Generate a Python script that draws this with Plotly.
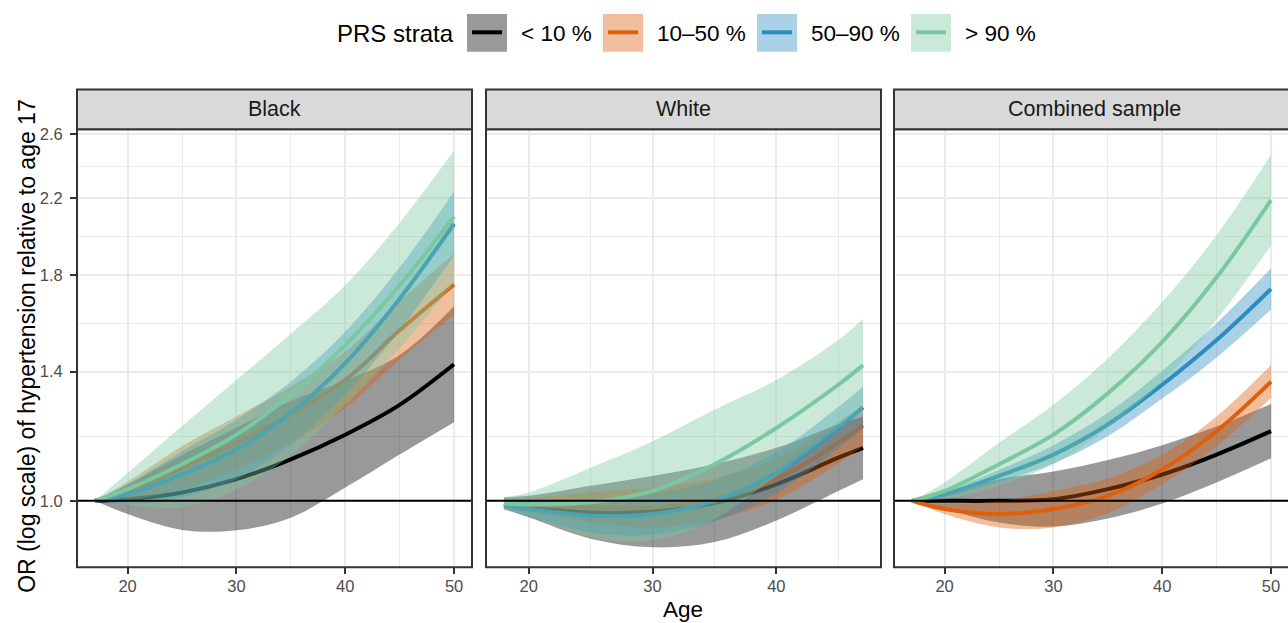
import math
import plotly.graph_objects as go

W, H = 1288, 623
FONT = "Liberation Sans, Arial, Helvetica, sans-serif"

# ---------------- data ----------------
panels = ["Black", "White", "Combined sample"]
strata = ["< 10 %", "10–50 %", "50–90 %", "> 90 %"]
line_colors = ["#000000", "#DE600C", "#2B8CBE", "#7BC8A0"]

y_tickvals = [1.0, 1.4, 1.8, 2.2, 2.6]
y_ticktext = ["1.0", "1.4", "1.8", "2.2", "2.6"]
x_tickvals = [20, 30, 40, 50]

# Black
age_bk = [17, 20, 25, 30, 35, 40, 45, 50]
bk_s1_est = [1.000, 1.004, 1.022, 1.058, 1.114, 1.188, 1.284, 1.427]
bk_s1_lo = [1.000, 0.966, 0.927, 0.926, 0.957, 1.035, 1.128, 1.227]
bk_s1_hi = [1.000, 1.043, 1.127, 1.210, 1.297, 1.368, 1.462, 1.660]
bk_s2_est = [1.000, 1.026, 1.090, 1.163, 1.252, 1.370, 1.559, 1.757]
bk_s2_lo = [1.000, 1.002, 1.031, 1.085, 1.163, 1.273, 1.445, 1.623]
bk_s2_hi = [1.000, 1.051, 1.153, 1.246, 1.347, 1.475, 1.683, 1.902]
bk_s3_est = [1.000, 1.017, 1.071, 1.143, 1.257, 1.431, 1.693, 2.058]
bk_s3_lo = [1.000, 0.991, 1.009, 1.058, 1.158, 1.318, 1.559, 1.893]
bk_s3_hi = [1.000, 1.044, 1.138, 1.235, 1.364, 1.553, 1.837, 2.239]
bk_s4_est = [1.000, 1.031, 1.100, 1.188, 1.318, 1.500, 1.753, 2.097]
bk_s4_lo = [1.000, 0.990, 0.983, 1.030, 1.125, 1.284, 1.487, 1.764]
bk_s4_hi = [1.000, 1.075, 1.215, 1.370, 1.545, 1.753, 2.064, 2.491]

# White
age_wh = [18, 20, 25, 30, 35, 40, 45, 47]
wh_s1_est = [0.991, 0.985, 0.970, 0.973, 0.994, 1.044, 1.119, 1.148]
wh_s1_lo = [0.979, 0.958, 0.906, 0.886, 0.898, 0.950, 1.026, 1.058]
wh_s1_hi = [1.009, 1.013, 1.040, 1.067, 1.100, 1.148, 1.220, 1.246]
wh_s2_est = [0.991, 0.989, 0.983, 0.983, 1.004, 1.058, 1.163, 1.217]
wh_s2_lo = [0.981, 0.972, 0.945, 0.933, 0.952, 1.003, 1.102, 1.153]
wh_s2_hi = [1.002, 1.006, 1.022, 1.035, 1.060, 1.116, 1.228, 1.285]
wh_s3_est = [0.990, 0.979, 0.962, 0.966, 1.000, 1.076, 1.209, 1.275]
wh_s3_lo = [0.979, 0.960, 0.921, 0.916, 0.948, 1.020, 1.145, 1.208]
wh_s3_hi = [1.000, 0.997, 1.004, 1.019, 1.055, 1.135, 1.277, 1.347]
wh_s4_est = [0.993, 0.991, 0.996, 1.026, 1.100, 1.209, 1.353, 1.424]
wh_s4_lo = [0.976, 0.962, 0.909, 0.902, 0.954, 1.067, 1.204, 1.262]
wh_s4_hi = [1.010, 1.022, 1.090, 1.168, 1.268, 1.370, 1.520, 1.607]

# Combined sample
age_cb = [17, 20, 25, 30, 35, 40, 45, 50]
cb_s1_est = [1.000, 1.000, 1.000, 1.004, 1.031, 1.071, 1.128, 1.199]
cb_s1_lo = [1.000, 0.979, 0.945, 0.935, 0.955, 0.993, 1.049, 1.117]
cb_s1_hi = [1.000, 1.022, 1.058, 1.079, 1.112, 1.156, 1.214, 1.287]
cb_s2_est = [1.000, 0.979, 0.966, 0.979, 1.013, 1.085, 1.199, 1.364]
cb_s2_lo = [1.000, 0.966, 0.933, 0.933, 0.969, 1.044, 1.153, 1.307]
cb_s2_hi = [1.000, 0.991, 1.000, 1.026, 1.060, 1.128, 1.246, 1.424]
cb_s3_est = [1.000, 1.017, 1.067, 1.128, 1.220, 1.353, 1.520, 1.737]
cb_s3_lo = [1.000, 1.010, 1.050, 1.102, 1.183, 1.305, 1.453, 1.646]
cb_s3_hi = [1.000, 1.024, 1.084, 1.156, 1.257, 1.403, 1.589, 1.833]
cb_s4_est = [1.000, 1.026, 1.100, 1.188, 1.323, 1.513, 1.790, 2.189]
cb_s4_lo = [1.000, 1.004, 1.040, 1.100, 1.209, 1.364, 1.603, 1.945]
cb_s4_hi = [1.000, 1.049, 1.163, 1.284, 1.449, 1.678, 1.998, 2.463]

panel_data = [
    (age_bk, [(bk_s1_est, bk_s1_lo, bk_s1_hi), (bk_s2_est, bk_s2_lo, bk_s2_hi),
              (bk_s3_est, bk_s3_lo, bk_s3_hi), (bk_s4_est, bk_s4_lo, bk_s4_hi)]),
    (age_wh, [(wh_s1_est, wh_s1_lo, wh_s1_hi), (wh_s2_est, wh_s2_lo, wh_s2_hi),
              (wh_s3_est, wh_s3_lo, wh_s3_hi), (wh_s4_est, wh_s4_lo, wh_s4_hi)]),
    (age_cb, [(cb_s1_est, cb_s1_lo, cb_s1_hi), (cb_s2_est, cb_s2_lo, cb_s2_hi),
              (cb_s3_est, cb_s3_lo, cb_s3_hi), (cb_s4_est, cb_s4_lo, cb_s4_hi)]),
]

# ---------------- layout geometry (pixels) ----------------
def px_x(x):
    return x / W

def px_y(y):
    return (H - y) / H

panel_x = [(77, 472), (486, 881), (894, 1288)]
x_ranges = [[15.35, 51.65], [16.55, 48.45], [15.35, 51.56]]
panel_top, panel_bot = 126, 567
strip_top = 86
y_range = [math.log10(0.8408), math.log10(2.633)]
y_minor = [math.sqrt(a * b) for a, b in zip(y_tickvals[:-1], y_tickvals[1:])]


def rgba(hexc, a):
    h = hexc.lstrip("#")
    r, g, b = int(h[0:2], 16), int(h[2:4], 16), int(h[4:6], 16)
    return f"rgba({r},{g},{b},{a})"


fig = go.Figure()

for pi, (ages, series) in enumerate(panel_data):
    xa = "x" if pi == 0 else f"x{pi+1}"
    ya = "y" if pi == 0 else f"y{pi+1}"
    for si, (est, lo, hi) in enumerate(series):
        col = line_colors[si]
        fig.add_trace(go.Scatter(x=ages, y=lo, mode="lines", xaxis=xa, yaxis=ya,
                                 line=dict(width=0, shape="spline", color=col),
                                 showlegend=False, hoverinfo="skip"))
        fig.add_trace(go.Scatter(x=ages, y=hi, mode="lines", xaxis=xa, yaxis=ya,
                                 fill="tonexty", fillcolor=rgba(col, 0.4),
                                 line=dict(width=0, shape="spline", color=col),
                                 showlegend=False, hoverinfo="skip"))
        fig.add_trace(go.Scatter(x=ages, y=est, mode="lines", xaxis=xa, yaxis=ya,
                                 line=dict(width=4, shape="spline", color=col),
                                 name=strata[si], showlegend=False))

axis_font = dict(family=FONT, size=16.5, color="#4D4D4D")
grid = "#EBEBEB"

layout = dict(
    width=W, height=H,
    margin=dict(l=0, r=0, t=0, b=0),
    paper_bgcolor="white", plot_bgcolor="white",
    font=dict(family=FONT, color="#1A1A1A"),
    showlegend=False,
)

for pi in range(3):
    xk = "xaxis" if pi == 0 else f"xaxis{pi+1}"
    yk = "yaxis" if pi == 0 else f"yaxis{pi+1}"
    ya = "y" if pi == 0 else f"y{pi+1}"
    xa = "x" if pi == 0 else f"x{pi+1}"
    x0, x1 = panel_x[pi]
    layout[xk] = dict(
        domain=[px_x(x0), px_x(x1)], range=x_ranges[pi], anchor=ya,
        tickvals=x_tickvals, ticks="outside", ticklen=6, tickwidth=2, tickcolor="#333333",
        tickfont=axis_font, showgrid=True, gridcolor=grid, gridwidth=2,
        minor=dict(tickvals=[25, 35, 45], showgrid=True, gridcolor=grid, gridwidth=1.2, ticks=""),
        zeroline=False, showline=False, ticklabelstandoff=-2,
    )
    layout[yk] = dict(
        domain=[px_y(panel_bot), px_y(panel_top)], range=y_range, type="log", anchor=xa,
        tickvals=y_tickvals, ticktext=y_ticktext,
        ticks="outside" if pi == 0 else "", ticklen=6, tickwidth=2, tickcolor="#333333",
        showticklabels=(pi == 0), tickfont=axis_font,
        showgrid=True, gridcolor=grid, gridwidth=2,
        minor=dict(tickvals=y_minor, showgrid=True, gridcolor=grid, gridwidth=1.2, ticks=""),
        zeroline=False, showline=False, ticklabelstandoff=4,
    )

shapes = []
annotations = []
for pi in range(3):
    xa = "x" if pi == 0 else f"x{pi+1}"
    ya = "y" if pi == 0 else f"y{pi+1}"
    xr = 1.0 if pi < 2 else 1.03
    # reference line at OR = 1
    shapes.append(dict(type="line", xref=f"{xa} domain", x0=0, x1=1, yref=ya, y0=1.0, y1=1.0,
                       line=dict(color="black", width=2), layer="above"))
    # panel border
    shapes.append(dict(type="rect", xref=f"{xa} domain", x0=0, x1=xr, yref=f"{ya} domain", y0=0, y1=1,
                       line=dict(color="#333333", width=2), fillcolor="rgba(0,0,0,0)", layer="above"))
    # strip
    shapes.append(dict(type="rect", xref=f"{xa} domain", x0=0, x1=xr, yref="paper",
                       y0=px_y(panel_top), y1=px_y(strip_top),
                       line=dict(color="#333333", width=2), fillcolor="#D9D9D9", layer="above"))
    x0, x1 = panel_x[pi]
    cx = (x0 + x1) / 2 if pi < 2 else x0 + 200
    annotations.append(dict(text=panels[pi], xref="paper", yref="paper", x=px_x(cx), y=px_y(106),
                            xanchor="center", yanchor="middle", showarrow=False,
                            font=dict(family=FONT, size=21.5, color="#1A1A1A")))

# axis titles
annotations.append(dict(text="Age", xref="paper", yref="paper", x=px_x(683), y=px_y(609),
                        xanchor="center", yanchor="middle", showarrow=False,
                        font=dict(family=FONT, size=22.5, color="black")))
annotations.append(dict(text="OR (log scale) of hypertension relative to age 17", xref="paper", yref="paper",
                        x=px_x(27), y=px_y(344), xanchor="center", yanchor="middle", textangle=-90,
                        showarrow=False, font=dict(family=FONT, size=23, color="black")))

# legend (manual)
annotations.append(dict(text="PRS strata", xref="paper", yref="paper", x=px_x(335), y=px_y(30),
                        xanchor="left", yanchor="middle", showarrow=False,
                        font=dict(family=FONT, size=24, color="black")))
key_left = [467, 603, 757, 911]
for si in range(4):
    kx = key_left[si]
    shapes.append(dict(type="rect", xref="paper", yref="paper", x0=px_x(kx), x1=px_x(kx + 40),
                       y0=px_y(48), y1=px_y(10), fillcolor=rgba(line_colors[si], 0.4),
                       line=dict(width=0), layer="above"))
    shapes.append(dict(type="line", xref="paper", yref="paper", x0=px_x(kx + 5), x1=px_x(kx + 35),
                       y0=px_y(28.5), y1=px_y(28.5), line=dict(color=line_colors[si], width=4),
                       layer="above"))
    annotations.append(dict(text=strata[si], xref="paper", yref="paper", x=px_x(kx + 52), y=px_y(30),
                            xanchor="left", yanchor="middle", showarrow=False,
                            font=dict(family=FONT, size=22.5, color="black")))

layout["shapes"] = shapes
layout["annotations"] = annotations
fig.update_layout(**layout)

fig.write_html("out.html", config={"displayModeBar": False},
               post_script="document.body.style.margin='0px';document.body.style.padding='0px';")
